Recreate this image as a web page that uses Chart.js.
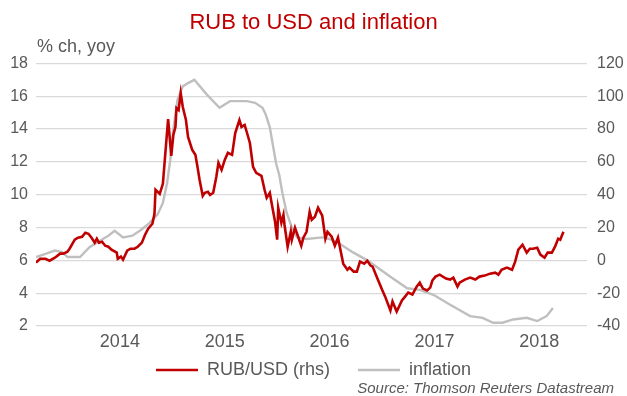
<!DOCTYPE html>
<html>
<head>
<meta charset="utf-8">
<script src="https://cdn.jsdelivr.net/npm/chart.js@4/dist/chart.umd.min.js"></script>
<style>
  html, body { margin: 0; padding: 0; background: #fff; }
  canvas { display: block; }
</style>
</head>
<body>
<canvas id="myChart" width="627" height="396"></canvas>
<script>
// year labels, each drawn in the middle of its year
const yearTicks = [2014, 2015, 2016, 2017, 2018];

// RUB/USD, % ch yoy (right axis), weekly
const rubDates = [
  2013.70, 2013.74, 2013.79, 2013.83, 2013.88, 2013.93, 2013.96, 2014.00, 2014.02, 2014.07,
  2014.10, 2014.14, 2014.17, 2014.20, 2014.23, 2014.26, 2014.28, 2014.30, 2014.33, 2014.36,
  2014.39, 2014.42, 2014.47, 2014.48, 2014.51, 2014.53, 2014.57, 2014.60, 2014.64, 2014.67,
  2014.71, 2014.74, 2014.77, 2014.81, 2014.83, 2014.84, 2014.88, 2014.91, 2014.93, 2014.96,
  2014.99, 2015.01, 2015.03, 2015.04, 2015.06, 2015.08, 2015.10, 2015.13, 2015.15, 2015.19,
  2015.22, 2015.24, 2015.26, 2015.29, 2015.31, 2015.34, 2015.36, 2015.39, 2015.42, 2015.44,
  2015.47, 2015.50, 2015.53, 2015.57, 2015.60, 2015.64, 2015.66, 2015.69, 2015.71, 2015.74,
  2015.77, 2015.80, 2015.85, 2015.88, 2015.90, 2015.93, 2015.95, 2015.98, 2016.00, 2016.01,
  2016.04, 2016.06, 2016.07, 2016.10, 2016.13, 2016.14, 2016.17, 2016.20, 2016.23, 2016.25,
  2016.28, 2016.31, 2016.33, 2016.36, 2016.39, 2016.43, 2016.46, 2016.48, 2016.52, 2016.55,
  2016.58, 2016.63, 2016.67, 2016.69, 2016.73, 2016.76, 2016.79, 2016.83, 2016.86, 2016.89,
  2016.91, 2016.96, 2017.00, 2017.03, 2017.08, 2017.10, 2017.14, 2017.19, 2017.22, 2017.25,
  2017.29, 2017.33, 2017.36, 2017.39, 2017.43, 2017.46, 2017.48, 2017.51, 2017.55, 2017.61,
  2017.65, 2017.68, 2017.72, 2017.74, 2017.79, 2017.84, 2017.89, 2017.93, 2017.98, 2018.03,
  2018.08, 2018.11, 2018.14, 2018.19, 2018.24, 2018.27, 2018.30, 2018.34, 2018.38, 2018.41,
  2018.44, 2018.48, 2018.51, 2018.55, 2018.58, 2018.62, 2018.65, 2018.68, 2018.70, 2018.73,
];
const rubValues = [
  -1.4, 1.0, 1.0, -0.2, 1.6, 4.1, 4.1, 5.3, 7.1, 12.6,
  13.8, 14.4, 16.8, 16.2, 13.8, 10.8, 13.2, 10.8, 11.4, 8.9,
  8.3, 6.5, 4.7, 1.0, 2.3, 0.4, 5.9, 7.1, 7.1, 8.3,
  10.8, 15.6, 19.3, 22.3, 28.4, 43.0, 40.5, 46.6, 62.4, 86.1,
  63.6, 76.4, 81.3, 92.8, 91.6, 101.9, 93.4, 85.5, 75.2, 67.3,
  64.3, 57.0, 49.1, 39.3, 41.2, 41.8, 39.9, 41.2, 50.9, 59.4,
  55.1, 61.2, 65.5, 64.3, 77.6, 85.5, 81.3, 82.5, 78.2, 71.5,
  57.0, 53.3, 51.5, 43.0, 38.1, 41.2, 33.9, 23.5, 12.6, 32.0,
  22.9, 27.8, 21.7, 8.3, 17.4, 12.6, 19.9, 14.4, 8.9, 13.8,
  17.4, 29.6, 24.7, 26.6, 32.0, 27.2, 13.2, 17.4, 14.4, 8.9,
  13.8, -2.0, -5.7, -4.4, -6.9, -6.9, -0.8, -2.0, -0.2, -3.2,
  -3.8, -11.7, -17.8, -22.1, -30.6, -25.1, -31.2, -24.5, -22.1, -19.6,
  -20.8, -16.0, -13.6, -17.2, -18.4, -16.6, -12.3, -9.9, -8.7, -11.1,
  -11.7, -10.5, -16.0, -13.6, -11.7, -10.5, -11.7, -9.9, -9.3, -8.1,
  -7.5, -8.7, -5.7, -4.4, -5.7, -0.8, 6.5, 9.5, 4.7, 7.1,
  7.1, 7.7, 3.5, 1.6, 4.7, 4.7, 8.3, 13.2, 12.6, 17.4,
];

// consumer price inflation, % yoy (left axis), monthly
const cpiDates = [
  2013.70, 2013.79, 2013.88, 2013.95, 2014.00, 2014.05, 2014.12, 2014.21, 2014.31, 2014.39,
  2014.45, 2014.53, 2014.62, 2014.69, 2014.77, 2014.86, 2014.91, 2014.95, 2014.98, 2015.01,
  2015.05, 2015.10, 2015.15, 2015.21, 2015.33, 2015.45, 2015.55, 2015.62, 2015.71, 2015.79,
  2015.86, 2015.89, 2015.93, 2015.96, 2015.99, 2016.02, 2016.05, 2016.09, 2016.14, 2016.19,
  2016.28, 2016.43, 2016.50, 2016.60, 2016.72, 2016.86, 2016.95, 2017.08, 2017.24, 2017.36,
  2017.49, 2017.65, 2017.84, 2017.96, 2018.06, 2018.15, 2018.25, 2018.38, 2018.48, 2018.57,
  2018.63,
];
const cpiValues = [
  6.2, 6.4, 6.6, 6.5, 6.2, 6.2, 6.2, 6.8, 7.2, 7.5,
  7.8, 7.4, 7.5, 7.8, 8.2, 8.8, 9.5, 10.7, 12.1, 14.0,
  15.8, 16.6, 16.8, 17.0, 16.1, 15.3, 15.7, 15.7, 15.7, 15.6,
  15.3, 14.9, 14.1, 13.0, 11.9, 11.2, 10.1, 8.9, 8.0, 7.4,
  7.3, 7.4, 7.3, 7.0, 6.5, 6.0, 5.6, 5.0, 4.3, 4.2,
  3.9, 3.3, 2.6, 2.5, 2.2, 2.2, 2.4, 2.5, 2.3, 2.6,
  3.1,
];

const toPoints = (xs, ys) => xs.map((x, i) => ({ x: x, y: ys[i] }));

const FONT = "'Liberation Sans', Arial, sans-serif";
const TEXT_GREY = '#595959';

// unit caption over the left axis and the source line at the bottom
const extraText = {
  id: 'extraText',
  afterDraw(chart) {
    const ctx = chart.ctx;
    ctx.save();
    ctx.fillStyle = TEXT_GREY;
    ctx.textBaseline = 'middle';
    ctx.textAlign = 'left';
    ctx.font = '18px ' + FONT;
    ctx.fillText('% ch, yoy', chart.chartArea.left + 1, 47);
    ctx.textAlign = 'right';
    ctx.font = 'italic 15px ' + FONT;
    ctx.fillText('Source: Thomson Reuters Datastream', 614, 389);
    ctx.restore();
  },
};

const ctx = document.getElementById('myChart').getContext('2d');
const myChart = new Chart(ctx, {
  type: 'line',
  data: {
    datasets: [
      {
        label: 'RUB/USD (rhs)',
        data: toPoints(rubDates, rubValues),
        yAxisID: 'yRight',
        borderColor: '#C00000',
        backgroundColor: '#C00000',
        borderWidth: 2.6,
        pointRadius: 0,
        tension: 0,
      },
      {
        label: 'inflation',
        data: toPoints(cpiDates, cpiValues),
        yAxisID: 'y',
        borderColor: '#BFBFBF',
        backgroundColor: '#BFBFBF',
        borderWidth: 2.4,
        pointRadius: 0,
        tension: 0,
      },
    ],
  },
  options: {
    responsive: false,
    animation: false,
    layout: {
      padding: { left: 0, right: 0, top: 0, bottom: 7 },
    },
    plugins: {
      title: {
        display: true,
        text: 'RUB to USD and inflation',
        color: '#C00000',
        font: { family: FONT, size: 22, weight: 'normal' },
        padding: { top: 10, bottom: 27 },
      },
      legend: {
        position: 'bottom',
        labels: {
          usePointStyle: true,
          pointStyle: 'line',
          pointStyleWidth: 42,
          boxHeight: 18,
          padding: 28,
          color: TEXT_GREY,
          font: { family: FONT, size: 18 },
        },
      },
      tooltip: { enabled: false },
    },
    scales: {
      x: {
        type: 'linear',
        min: 2013.70,
        max: 2018.955,
        afterBuildTicks: (scale) => {
          scale.ticks = yearTicks.map((y) => ({ value: y + 0.5 }));
        },
        // thin axis box so the wide legend padding fits underneath;
        // mirrored labels are not clipped to the box, and a negative
        // padding pushes them back below the plot
        afterFit: (scale) => {
          scale.height = 7;
        },
        ticks: {
          mirror: true,
          padding: -27,
          maxRotation: 0,
          autoSkip: false,
          color: TEXT_GREY,
          font: { family: FONT, size: 18 },
          callback: (v) => String(Math.floor(v)),
        },
        grid: { display: false, drawTicks: false },
        border: { display: false },
      },
      y: {
        position: 'left',
        min: 2,
        max: 18,
        afterFit: (scale) => {
          scale.width = 36;
        },
        ticks: {
          stepSize: 2,
          padding: 8,
          color: TEXT_GREY,
          font: { family: FONT, size: 16 },
        },
        grid: {
          color: '#D9D9D9',
          lineWidth: 1.2,
          drawTicks: false,
        },
        border: { display: false },
      },
      yRight: {
        position: 'right',
        min: -40,
        max: 120,
        afterFit: (scale) => {
          scale.width = 40;
        },
        ticks: {
          stepSize: 20,
          padding: 10,
          color: TEXT_GREY,
          font: { family: FONT, size: 16 },
        },
        grid: { display: false, drawTicks: false },
        border: { display: false },
      },
    },
  },
  plugins: [extraText],
});
</script>
</body>
</html>
